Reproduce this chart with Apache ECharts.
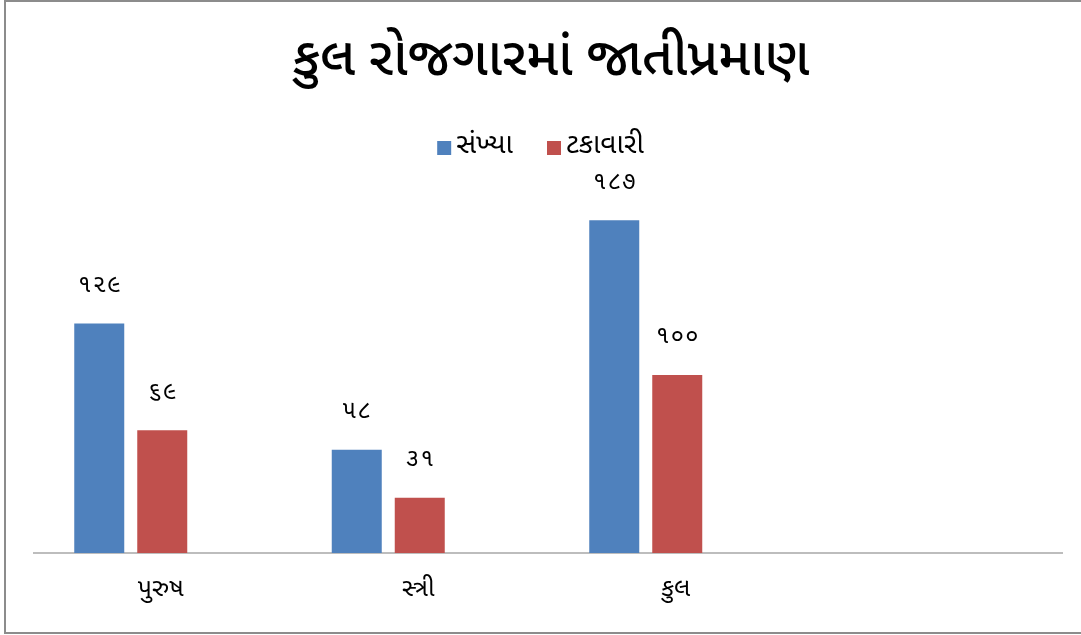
<!DOCTYPE html>
<html>
<head>
<meta charset="utf-8">
<script src="https://cdn.jsdelivr.net/npm/echarts@6/dist/echarts.min.js"></script>
<style>
  html, body { margin: 0; padding: 0; background: #fff; }
  #Chart { width: 1081px; height: 635px; }
</style>
</head>
<body>
<div id="Chart"></div>
<script>
// categories and values (4th slot is left empty like the original)
var categories = ['પુરુષ', 'સ્ત્રી', 'કુલ', ''];
var countValues = [129, 58, 187, null];
var percentValues = [69, 31, 100, null];
var seriesNames = ['સંખ્યા', 'ટકાવારી'];

var guDigits = ['૦', '૧', '૨', '૩', '૪', '૫', '૬', '૭', '૮', '૯'];
// gujarati digits, a little spaced out like the original labels
function toGujarati(n) {
    return String(n).split('').map(function (d) { return guDigits[+d]; }).join('\u200A');
}

var font = '"Noto Sans Gujarati", "Noto Sans", sans-serif';

var myChart = echarts.init(document.getElementById('Chart'));

var labelStyle = {
    show: true,
    position: 'top',
    distance: 24,
    fontFamily: font,
    fontSize: 24,
    color: '#000',
    formatter: function (p) { return toGujarati(p.value); }
};

var option = {
    backgroundColor: '#fff',
    animation: false,
    title: {
        text: 'કુલ રોજગારમાં જાતીપ્રમાણ',
        left: 546,
        textAlign: 'center',
        top: 34,
        textStyle: { fontFamily: font, fontSize: 53, fontWeight: 500, color: '#000' }
    },
    legend: {
        top: 129,
        left: 'center',
        itemWidth: 14,
        itemHeight: 14,
        itemGap: 34,
        icon: 'rect',
        textStyle: { fontFamily: font, fontSize: 28, color: '#000' }
    },
    grid: { left: 2, right: 49, top: 197, bottom: 82, containLabel: false },
    xAxis: {
        type: 'category',
        data: categories,
        axisLine: { show: false },
        axisTick: { show: false },
        axisLabel: {
            fontFamily: font, fontSize: 25, color: '#000', margin: 26,
            // labels sit a bit right of the bar pairs in the original
            padding: [0, 0, 0, 60]
        }
    },
    yAxis: {
        type: 'value',
        min: 0,
        max: 200,
        show: false,
        splitLine: { show: false }
    },
    series: [
        {
            name: seriesNames[0],
            type: 'bar',
            data: countValues,
            barWidth: 50,
            barGap: '26%',
            itemStyle: { color: '#4f81bd' },
            label: labelStyle
        },
        {
            name: seriesNames[1],
            type: 'bar',
            data: percentValues,
            barWidth: 50,
            itemStyle: { color: '#c0504d' },
            label: labelStyle
        }
    ],
    graphic: [
        {
            // base line of the plot, drawn where the original has it
            type: 'line',
            shape: { x1: 33, y1: 553, x2: 1063, y2: 553 },
            style: { stroke: '#bdbdbd', lineWidth: 2 },
            silent: true
        },
        {
            type: 'rect',
            shape: { x: 5, y: 1, width: 1100, height: 632 },
            style: { fill: 'none', stroke: '#8c8c8c', lineWidth: 2 },
            silent: true
        }
    ]
};

myChart.setOption(option);
</script>
</body>
</html>
